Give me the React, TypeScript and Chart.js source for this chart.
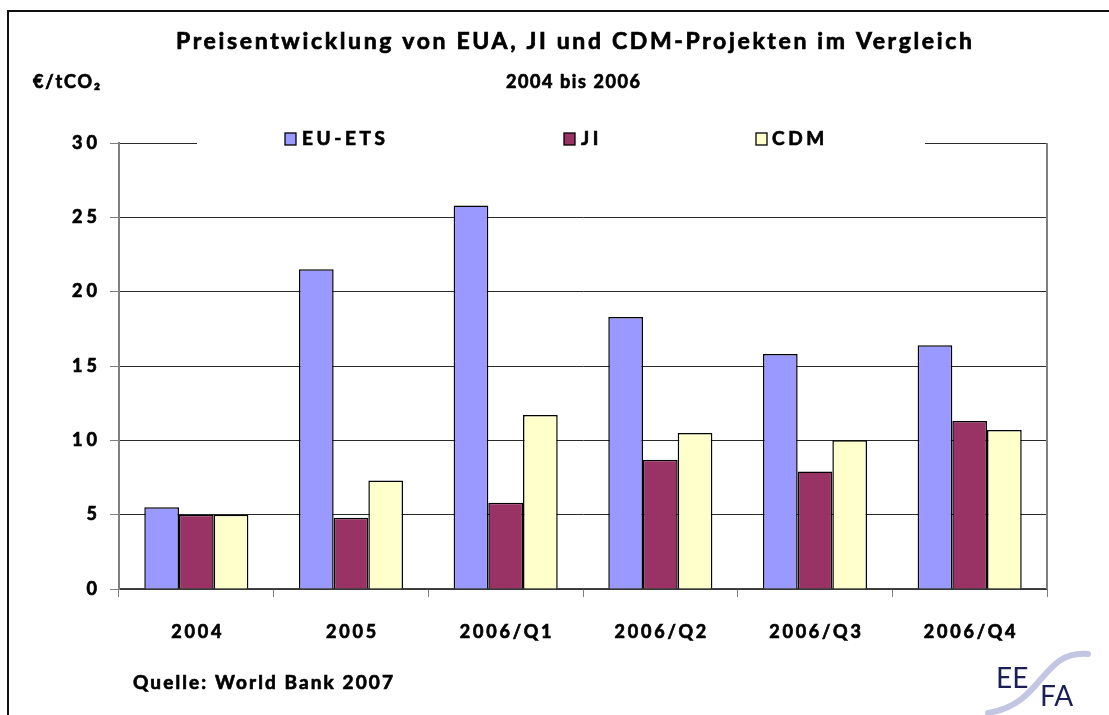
import React, { useEffect, useRef } from 'react';
import { Chart, registerables } from 'chart.js';

Chart.register(...registerables);

const categories = ['2004', '2005', '2006/Q1', '2006/Q2', '2006/Q3', '2006/Q4'];
const euEtsValues = [5.5, 21.5, 25.8, 18.3, 15.8, 16.4];
const jiValues = [5.0, 4.8, 5.8, 8.7, 7.9, 11.3];
const cdmValues = [5.0, 7.3, 11.7, 10.5, 10.0, 10.7];
const seriesNames = ['EU-ETS', 'JI', 'CDM'];
const seriesColors = ['#9999FF', '#993366', '#FFFFCC'];
const yMin = 0;
const yMax = 30;
const yStep = 5;

const titleText = 'Preisentwicklung von EUA, JI und CDM-Projekten im Vergleich';
const subtitleText = '2004 bis 2006';
const unitText = '€/tCO₂';
const sourceText = 'Quelle: World Bank 2007';

const FONT = 'Lato, "Open Sans", sans-serif';

function drawHeavy(ctx: CanvasRenderingContext2D, text: string, x: number, y: number) {
  ctx.fillText(text, x, y);
  ctx.lineWidth = 0.7;
  ctx.strokeStyle = ctx.fillStyle as string;
  ctx.strokeText(text, x, y);
}

// draws text so that it spans x0..x1 by adjusting letter spacing
function fitText(ctx: CanvasRenderingContext2D, text: string, x0: number, x1: number, y: number, font: string) {
  ctx.font = font;
  (ctx as any).letterSpacing = '0px';
  const w = ctx.measureText(text).width;
  const n = Array.from(text).length;
  const sp = n > 1 ? (x1 - x0 - w) / (n - 1) : 0;
  (ctx as any).letterSpacing = sp + 'px';
  ctx.textAlign = 'left';
  ctx.textBaseline = 'middle';
  drawHeavy(ctx, text, x0, y);
  (ctx as any).letterSpacing = '0px';
}

function spacedWidth(ctx: CanvasRenderingContext2D, text: string, font: string, spacing: number) {
  ctx.font = font;
  (ctx as any).letterSpacing = '0px';
  const n = Array.from(text).length;
  return ctx.measureText(text).width + spacing * (n - 1);
}

function spacedText(ctx: CanvasRenderingContext2D, text: string, x: number, y: number, font: string, spacing: number, align: 'left' | 'center' | 'right') {
  const w = spacedWidth(ctx, text, font, spacing);
  const sx = align === 'left' ? x : align === 'center' ? x - w / 2 : x - w;
  ctx.font = font;
  (ctx as any).letterSpacing = spacing + 'px';
  ctx.textAlign = 'left';
  ctx.textBaseline = 'middle';
  drawHeavy(ctx, text, sx, y);
  (ctx as any).letterSpacing = '0px';
}

const decorPlugin = {
  id: 'decor',
  beforeDraw(chart: any) {
    const ctx = chart.ctx;
    ctx.save();
    ctx.fillStyle = '#ffffff';
    ctx.fillRect(0, 0, chart.width, chart.height);
    ctx.restore();
  },
  afterDraw(chart: any) {
    const ctx: CanvasRenderingContext2D = chart.ctx;
    const area = chart.chartArea;
    const xScale = chart.scales.x;
    const yScale = chart.scales.y;
    ctx.save();
    (ctx as any).letterSpacing = '0px';

    // right border of plot area
    ctx.strokeStyle = '#808080';
    ctx.lineWidth = 2;
    ctx.beginPath();
    ctx.moveTo(area.right, area.top);
    ctx.lineTo(area.right, area.bottom);
    ctx.stroke();

    // y tick labels
    const yFont = `700 18px ${FONT}`;
    yScale.ticks.forEach((t: any) => {
      const py = yScale.getPixelForValue(t.value);
      ctx.fillStyle = '#000';
      spacedText(ctx, String(t.value), 97, py, yFont, 4, 'right');
    });
    // x tick labels
    const xFont = `700 18px ${FONT}`;
    categories.forEach((c, i) => {
      const px = xScale.getPixelForTick(i);
      ctx.fillStyle = '#000';
      spacedText(ctx, c, px, 632, xFont, 2.8, 'center');
    });

    // legend box (white, overlapping top gridline)
    ctx.fillStyle = '#ffffff';
    ctx.fillRect(197, 126, 728, 30);
    const legendY = 139;
    const boxX = [285, 564, 756];
    const textX = [302, 581, 772];
    const legFont = `700 19px ${FONT}`;
    for (let i = 0; i < seriesNames.length; i++) {
      ctx.fillStyle = seriesColors[i];
      ctx.fillRect(boxX[i], legendY - 6, 11, 12);
      ctx.strokeStyle = '#000';
      ctx.lineWidth = 1.3;
      ctx.strokeRect(boxX[i], legendY - 6, 11, 12);
      ctx.fillStyle = '#000';
      spacedText(ctx, seriesNames[i], textX[i], legendY, legFont, 3.6, 'left');
    }

    ctx.fillStyle = '#000';
    fitText(ctx, titleText, 176, 972, 42, `700 23px ${FONT}`);
    fitText(ctx, subtitleText, 506, 640, 82, `700 18px ${FONT}`);
    fitText(ctx, unitText, 33, 100, 82, `700 18px ${FONT}`);
    fitText(ctx, sourceText, 133, 393, 683, `700 19px ${FONT}`);

    // frame
    ctx.strokeStyle = '#111';
    ctx.lineWidth = 2;
    ctx.beginPath();
    ctx.moveTo(8, chart.height);
    ctx.lineTo(8, 11);
    ctx.lineTo(chart.width, 11);
    ctx.stroke();

    // EEFA logo
    ctx.strokeStyle = '#c3c6e2';
    ctx.lineWidth = 6;
    ctx.lineCap = 'round';
    ctx.beginPath();
    ctx.moveTo(1088, 654);
    ctx.bezierCurveTo(1040, 650, 1045, 704, 988, 713);
    ctx.stroke();
    ctx.fillStyle = '#1b1f55';
    ctx.textBaseline = 'alphabetic';
    ctx.textAlign = 'left';
    ctx.font = `400 28px ${FONT}`;
    ctx.fillText('EE', 996, 688);
    ctx.fillText('FA', 1040, 706);

    ctx.restore();
  },
};

export default function App() {
  const canvasRef = useRef<HTMLCanvasElement | null>(null);

  useEffect(() => {
    const canvas = canvasRef.current;
    if (!canvas) return;
    const values = [euEtsValues, jiValues, cdmValues];
    const chart = new Chart(canvas, {
      type: 'bar',
      data: {
        labels: categories,
        datasets: seriesNames.map((name, i) => ({
          label: name,
          data: values[i],
          backgroundColor: seriesColors[i],
          borderColor: '#000000',
          borderWidth: 1.5,
          barPercentage: 1,
          categoryPercentage: 0.673,
        })),
      },
      options: {
        responsive: false,
        animation: false,
        devicePixelRatio: 1,
        layout: { padding: { top: 143, right: 62, left: 0, bottom: 0 } },
        plugins: {
          legend: { display: false },
          title: { display: false },
          tooltip: { enabled: false },
        },
        scales: {
          x: {
            offset: true,
            grid: {
              display: true,
              drawOnChartArea: false,
              drawTicks: true,
              tickLength: 8,
              color: '#808080',
              offset: true,
            },
            border: { display: true, color: '#444', width: 1.5 },
            ticks: { display: false, autoSkip: false, maxRotation: 0 },
            afterFit: (scale: any) => {
              scale.height = 126;
            },
          },
          y: {
            min: yMin,
            max: yMax,
            grid: {
              color: '#2a2a2a',
              lineWidth: 1,
              tickLength: 9,
              tickColor: '#808080',
            },
            border: { display: true, color: '#808080', width: 2 },
            ticks: { display: false, stepSize: yStep },
            afterFit: (scale: any) => {
              scale.width = 119;
            },
          },
        },
      },
      plugins: [decorPlugin],
    });
    return () => chart.destroy();
  }, []);

  return (
    <div style={{ position: 'fixed', left: 0, top: 0, width: 1109, height: 715, background: '#fff' }}>
      <canvas ref={canvasRef} width={1109} height={715} style={{ display: 'block' }} />
    </div>
  );
}
